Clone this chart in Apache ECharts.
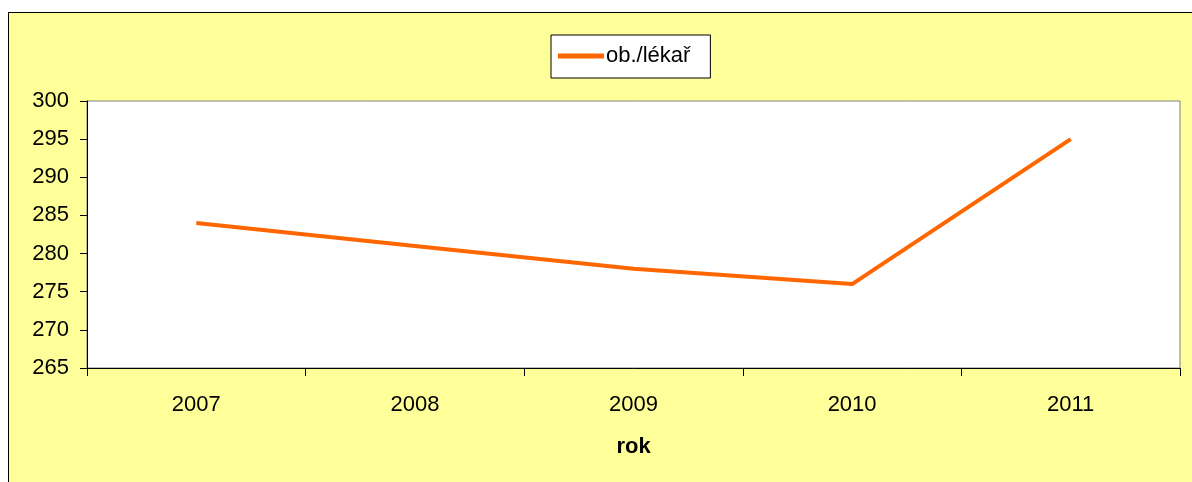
<!DOCTYPE html>
<html>
<head>
<meta charset="utf-8">
<style>
 body{
 	margin: 0;
 	background: #fff;
 }
 .frame{
 	position: absolute;
 	left: 8px;
 	top: 12px;
 	width: 1200px;
 	height: 480px;
 	background: #FFFF99;
 	border: 1px solid #000;
 }
 #chart{
 	position: absolute;
 	left: 0;
 	top: 0;
 	width: 1192px;
 	height: 482px;
 }
</style>
</head>
<body>
<div class="frame"></div>
<div id="chart"></div>
<script src="https://cdn.jsdelivr.net/npm/echarts@6/dist/echarts.min.js"></script>
<script type="text/javascript">
	// data
	var years = ['2007', '2008', '2009', '2010', '2011'];
	var obyvNaLekare = [284, 281, 278, 276, 295];
	var seriesName = 'ob./lékař';
	var font = 'Liberation Sans, Arial, sans-serif';

	var options = {
		backgroundColor: 'transparent',
		textStyle: { fontFamily: font },
		legend: {
			data: [{ name: seriesName, icon: 'rect' }],
			left: 551,
			top: 35,
			padding: [9, 20, 10, 7],
			itemWidth: 46,
			itemHeight: 5,
			itemGap: 0,
			borderColor: '#000',
			borderWidth: 1,
			backgroundColor: '#fff',
			textStyle: { fontSize: 22, color: '#000', fontFamily: font, padding: [0, 0, 0, -3], lineHeight: 24 }
		},
		grid: {
			left: 87,
			right: 12,
			top: 101,
			bottom: 114,
			show: true,
			backgroundColor: '#fff',
			borderColor: '#808080',
			borderWidth: 1
		},
		xAxis: {
			type: 'category',
			data: years,
			boundaryGap: true,
			name: 'rok',
			nameLocation: 'middle',
			nameGap: 68,
			nameTextStyle: { fontSize: 22, fontWeight: 'bold', color: '#000', fontFamily: font },
			axisLine: { lineStyle: { color: '#000', width: 1 } },
			axisTick: { show: true, length: 8, inside: false, alignWithLabel: false, lineStyle: { color: '#000' } },
			axisLabel: { fontSize: 22, color: '#000', margin: 26, fontFamily: font },
			splitLine: { show: false }
		},
		yAxis: {
			type: 'value',
			min: 265,
			max: 300,
			interval: 5,
			axisLine: { show: true, lineStyle: { color: '#000', width: 1 } },
			axisTick: { show: true, length: 7, lineStyle: { color: '#000' } },
			axisLabel: { fontSize: 22, color: '#000', margin: 18, fontFamily: font },
			splitLine: { show: false }
		},
		series: [{
			name: seriesName,
			type: 'line',
			data: obyvNaLekare,
			symbol: 'none',
			color: '#FF6600',
			lineStyle: { color: '#FF6600', width: 4 },
			animation: false
		}]
	};

	var myChart = echarts.init(document.getElementById('chart'));
	myChart.setOption(options);
</script>
</body>
</html>
